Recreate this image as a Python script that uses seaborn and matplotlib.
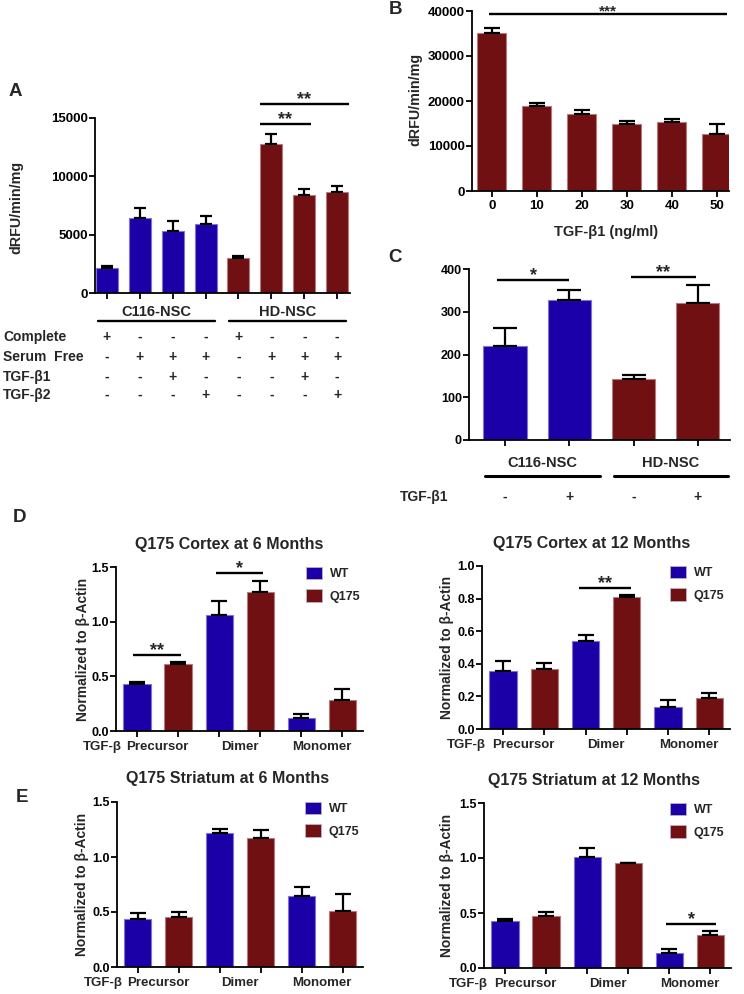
import numpy as np
import pandas as pd
import matplotlib
matplotlib.use("Agg")
import matplotlib.pyplot as plt
import seaborn as sns
from matplotlib.patches import Patch

# colours
BLUE = "#1b00a8"
RED = "#711012"

# Panel A - activity in NSC lines
a_cells = ["C116-NSC"] * 4 + ["HD-NSC"] * 4
a_mean = [2150, 6430, 5340, 5910, 3000, 12740, 8370, 8690]
a_err = [140, 830, 800, 660, 140, 890, 540, 450]
a_complete = ["+", "-", "-", "-", "+", "-", "-", "-"]
a_serum_free = ["-", "+", "+", "+", "-", "+", "+", "+"]
a_tgfb1 = ["-", "-", "+", "-", "-", "-", "+", "-"]
a_tgfb2 = ["-", "-", "-", "+", "-", "-", "-", "+"]

# Panel B - TGF-b1 dose response
b_dose = ["0", "10", "20", "30", "40", "50"]
b_mean = [35100, 18900, 17000, 14900, 15300, 12700]
b_err = [1200, 600, 1100, 600, 600, 2100]

# Panel C
c_cells = ["C116-NSC", "C116-NSC", "HD-NSC", "HD-NSC"]
c_tgfb1 = ["-", "+", "-", "+"]
c_mean = [221, 328, 143, 320]
c_err = [40, 24, 9, 43]

# Panels D / E - Q175 mice
forms = ["Precursor", "Dimer", "Monomer"]
genotypes = ["WT", "Q175"]
ctx6_mean = [0.426, 0.61, 1.065, 1.27, 0.122, 0.283]
ctx6_err = [0.024, 0.023, 0.125, 0.105, 0.033, 0.10]
ctx12_mean = [0.358, 0.37, 0.54, 0.81, 0.136, 0.193]
ctx12_err = [0.062, 0.037, 0.036, 0.015, 0.041, 0.029]
str6_mean = [0.432, 0.456, 1.217, 1.171, 0.645, 0.508]
str6_err = [0.055, 0.046, 0.036, 0.076, 0.085, 0.155]
str12_mean = [0.429, 0.475, 1.007, 0.952, 0.137, 0.298]
str12_err = [0.018, 0.036, 0.082, 0.006, 0.039, 0.037]

sns.set_style("ticks")
plt.rcParams["font.family"] = ["Liberation Sans", "DejaVu Sans"]
plt.rcParams.update({
    "font.weight": "bold", "axes.labelweight": "bold", "axes.titleweight": "bold",
    "axes.linewidth": 1.3, "axes.edgecolor": "black",
    "xtick.major.width": 1.3, "ytick.major.width": 1.3,
    "xtick.major.size": 4, "ytick.major.size": 4,
    "xtick.major.pad": 2.5, "ytick.major.pad": 1.2,
    "xtick.color": "black", "ytick.color": "black",
    "xtick.labelsize": 9.5, "ytick.labelsize": 9.5,
})

fig = plt.figure(figsize=(7.44, 9.94), dpi=100)


def add_ax(x0, x1, y_top, y_bot):
    return fig.add_axes([x0 / 744, 1 - y_bot / 994, (x1 - x0) / 744, (y_bot - y_top) / 994])


def bar_panel(ax, cond, mean, err, hue, palette, width, capsize):
    df = pd.DataFrame({"cond": cond, "val": mean, "hue": hue})
    sns.barplot(data=df, x="cond", y="val", hue="hue", palette=palette, dodge=False,
                width=width, errorbar=None, saturation=1, linewidth=0.8, legend=False, ax=ax)
    patches = sorted(ax.patches, key=lambda p: p.get_x())
    for p in patches:
        r, g, b, _ = p.get_facecolor()
        p.set_edgecolor((r + (1 - r) * 0.45, g + (1 - g) * 0.45, b + (1 - b) * 0.45))
    xs = [p.get_x() + p.get_width() / 2 for p in patches]
    tops = [p.get_height() for p in patches]
    ax.errorbar(xs, tops, yerr=[np.zeros(len(err)), err], fmt="none", ecolor="black",
                elinewidth=1.6, capsize=capsize, capthick=1.6, zorder=3)
    ax.set_xlabel("")
    ax.set_ylabel("")
    sns.despine(ax=ax)
    return xs


def sig(ax, x0, x1, y, label, fs=13):
    ax.plot([x0, x1], [y, y], color="black", lw=1.7, clip_on=False, solid_capstyle="butt")
    ax.annotate(label, ((x0 + x1) / 2, y), xytext=(0, -3), textcoords="offset points",
                ha="center", va="bottom", fontsize=fs, annotation_clip=False)


def letter(px, py, s):
    fig.text(px / 744, 1 - py / 994, s, fontsize=13.5, ha="center", va="center")


# ---------------- Panel A ----------------
axA = add_ax(95, 350, 118, 293)
condA = [f"{c} {i}" for i, c in enumerate(a_cells)]
xsA = bar_panel(axA, condA, a_mean, a_err, a_cells, {"C116-NSC": BLUE, "HD-NSC": RED}, 0.67, 4.5)
axA.set_ylim(0, 15000)
axA.set_yticks([0, 5000, 10000, 15000])
axA.set_xlim(-0.36, 7.39)
axA.tick_params(labelbottom=False)
axA.set_ylabel("dRFU/min/mg", fontsize=10.3)
axA.yaxis.set_label_coords(-0.282, 0.49)
sig(axA, 4.65, 6.2, 14490, "**")
sig(axA, 4.65, 7.35, 16200, "**")
trA = axA.get_xaxis_transform()
for name in ["C116-NSC", "HD-NSC"]:
    gx = [x for x, c in zip(xsA, a_cells) if c == name]
    axA.plot([min(gx) - 0.28, max(gx) + 0.28], [-0.16, -0.16], transform=trA, color="black",
             lw=1.7, clip_on=False)
    axA.text(np.mean(gx), -0.108, name, transform=trA, ha="center", va="center", fontsize=10.5)
rows = [("Complete", a_complete), ("Serum  Free", a_serum_free),
        ("TGF-β1", a_tgfb1), ("TGF-β2", a_tgfb2)]
row_y = [-0.251, -0.366, -0.48, -0.583]
for (name, signs), y in zip(rows, row_y):
    axA.text(-0.361, y, name, transform=axA.transAxes, ha="left", va="center", fontsize=10)
    for x, s in zip(xsA, signs):
        axA.text(x, y, s, transform=trA, ha="center", va="center", fontsize=10)
letter(15, 91, "A")

# ---------------- Panel B ----------------
axB = add_ax(472, 729, 11, 191)
bar_panel(axB, b_dose, b_mean, b_err, ["x"] * len(b_dose), {"x": RED}, 0.64, 6)
axB.set_ylim(0, 40000)
axB.set_yticks([0, 10000, 20000, 30000, 40000])
axB.set_xlim(-0.44, 5.27)
axB.tick_params(labelsize=9.5)
axB.set_ylabel("dRFU/min/mg", fontsize=10.3)
axB.yaxis.set_label_coords(-0.195, 0.506)
axB.set_xlabel("TGF-β1 (ng/ml)", fontsize=10.5)
axB.xaxis.set_label_coords(0.52, -0.19)
sig(axB, -0.07, 5.22, 39330, "***", fs=11)
letter(396, 9, "B")

# ---------------- Panel C ----------------
axC = add_ax(469, 730, 269, 440)
condC = [f"{c} {s}" for c, s in zip(c_cells, c_tgfb1)]
xsC = bar_panel(axC, condC, c_mean, c_err, c_cells, {"C116-NSC": BLUE, "HD-NSC": RED}, 0.67, 8.5)
axC.set_ylim(0, 400)
axC.set_yticks([0, 100, 200, 300, 400])
axC.set_xlim(-0.56, 3.5)
axC.tick_params(labelbottom=False, labelsize=9)
sig(axC, -0.12, 1.0, 374, "*")
sig(axC, 1.96, 2.97, 381, "**")
trC = axC.get_xaxis_transform()
for name in ["C116-NSC", "HD-NSC"]:
    gx = [x for x, c in zip(xsC, c_cells) if c == name]
    lo, hi = min(gx) - 0.31, max(gx) + 0.47
    axC.plot([lo, hi], [-0.21, -0.21], transform=trC, color="black", lw=2.2, clip_on=False)
    axC.text((lo + hi) / 2, -0.135, name, transform=trC, ha="center", va="center", fontsize=10.5)
axC.text(-0.264, -0.333, "TGF-β1", transform=axC.transAxes, ha="left", va="center", fontsize=10)
for x, s in zip(xsC, c_tgfb1):
    axC.text(x, -0.333, s, transform=trC, ha="center", va="center", fontsize=10)
letter(395, 257, "C")

# ---------------- Panels D / E ----------------
condQ = [f"{g} {f}" for f in forms for g in genotypes]
hueQ = [g for f in forms for g in genotypes]
palQ = {"WT": BLUE, "Q175": RED}


def q175_panel(box, mean, err, title, ymax, yticks, title_x, title_pad, lab_x, leg_x, tgf_x):
    ax = add_ax(*box)
    xs = bar_panel(ax, condQ, mean, err, hueQ, palQ, 0.66, 6)
    ax.set_ylim(0, ymax)
    ax.set_yticks(yticks)
    ax.set_xlim(-0.51, 5.5)
    ax.tick_params(labelbottom=False, labelsize=9)
    ax.set_title(title, fontsize=11.5, x=title_x, pad=title_pad)
    ax.set_ylabel("Normalized to β-Actin", fontsize=10)
    ax.yaxis.set_label_coords(lab_x, 0.5)
    tr = ax.get_xaxis_transform()
    for i, f in enumerate(forms):
        ax.text(np.mean(xs[2 * i:2 * i + 2]), -0.098, f, transform=tr, ha="center", va="center",
                fontsize=9.5)
    ax.text(tgf_x, -0.098, "TGF-β", transform=tr, ha="center", va="center", fontsize=9.5)
    handles = [Patch(facecolor=palQ[g], edgecolor="#c0b0c0", linewidth=0.6) for g in genotypes]
    ax.legend(handles, genotypes, loc="upper left", bbox_to_anchor=(leg_x, 1.0), frameon=False,
              borderaxespad=0, borderpad=0, fontsize=9, handlelength=1.3, handleheight=1.15,
              handletextpad=0.6, labelspacing=0.7)
    return ax


axD1 = q175_panel((116, 363, 567, 731), ctx6_mean, ctx6_err, "Q175 Cortex at 6 Months",
                  1.5, [0, 0.5, 1.0, 1.5], 0.46, 13.3, -0.105, 0.77, -0.85)
sig(axD1, -0.1, 1.07, 0.695, "**")
sig(axD1, 1.92, 3.06, 1.445, "*")

axD2 = q175_panel((482, 730, 566, 729), ctx12_mean, ctx12_err, "Q175 Cortex at 12 Months",
                  1.0, [0, 0.2, 0.4, 0.6, 0.8, 1.0], 0.444, 13.3, -0.113, 0.758, -0.88)
sig(axD2, 1.85, 3.1, 0.865, "**")

axE1 = q175_panel((117, 363, 802, 967), str6_mean, str6_err, "Q175 Striatum at 6 Months",
                  1.5, [0, 0.5, 1.0, 1.5], 0.45, 14, -0.114, 0.764, -0.85)

axE2 = q175_panel((484, 731, 803, 968), str12_mean, str12_err, "Q175 Striatum at 12 Months",
                  1.5, [0, 0.5, 1.0, 1.5], 0.445, 12.6, -0.121, 0.753, -0.9)
sig(axE2, 3.93, 5.14, 0.4, "*")

letter(20, 518, "D")
letter(22, 798, "E")

fig.savefig("out.png", dpi=100)
